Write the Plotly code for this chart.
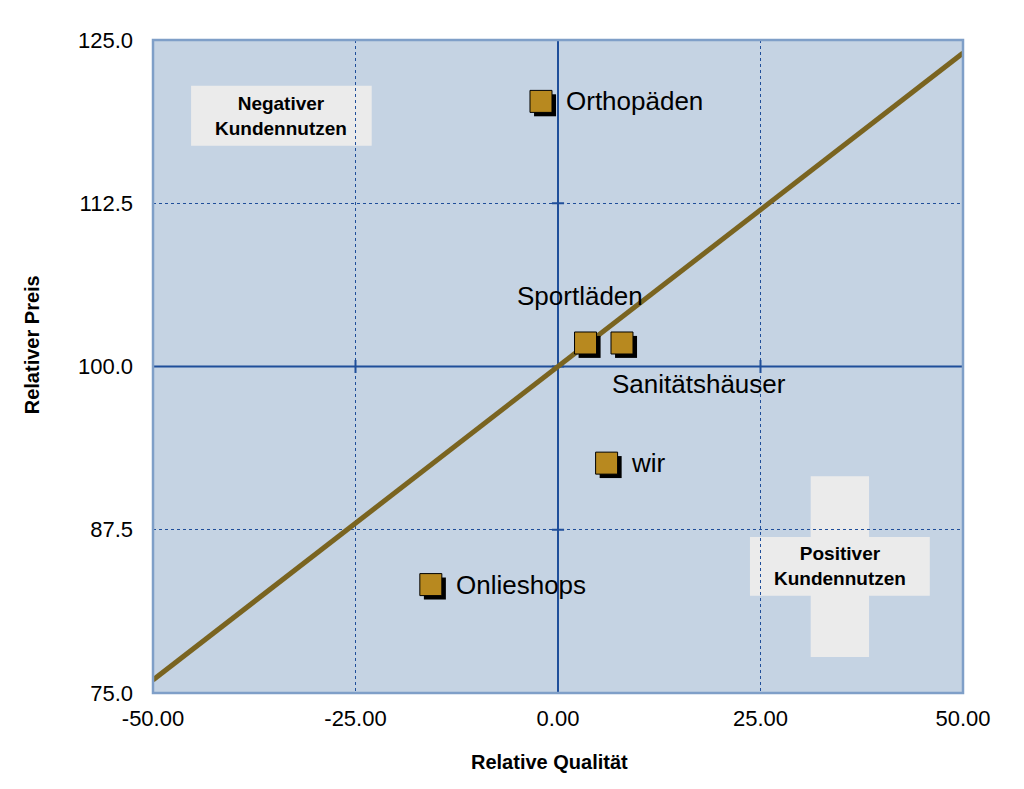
import plotly.graph_objects as go

# data
names = ["Orthopäden", "Sportläden", "Sanitätshäuser", "wir", "Onlieshops"]
quality = [-2.1, 3.4, 7.9, 6.0, -15.7]
price = [120.3, 101.8, 101.8, 92.6, 83.3]

line_x = [-50, 50]
line_y = [76.0, 124.0]

x_ticks = [-50, -25, 0, 25, 50]
y_ticks = [75, 87.5, 100, 112.5, 125]

# label placement relative to marker (px): xshift, yshift, xanchor
label_style = [(23, 0, "left"), (-6, 47, "center"), (-12, -41, "left"),
               (22, 0, "left"), (23, 0, "left")]

BG = "#C5D3E3"
CROSS = "#1F4E9A"
GOLD = "#B8891F"
FONT = "Liberation Sans, Arial, sans-serif"

fig = go.Figure()

# diagonal reference line
fig.add_trace(go.Scatter(
    x=line_x, y=line_y, mode="lines",
    line=dict(color="#7A6420", width=5),
    hoverinfo="skip", showlegend=False,
))

# marker shadows (slightly offset)
fig.add_trace(go.Scatter(
    x=[q + 0.5 for q in quality], y=[p - 0.3 for p in price], mode="markers",
    marker=dict(symbol="square", size=22, color="black"),
    hoverinfo="skip", showlegend=False,
))

fig.add_trace(go.Scatter(
    x=quality, y=price, mode="markers",
    marker=dict(symbol="square", size=22, color=GOLD,
                line=dict(color="black", width=1)),
    showlegend=False,
))

# labels
for n, q, p, (xs, ys, xa) in zip(names, quality, price, label_style):
    fig.add_annotation(
        x=q, y=p, text=n, showarrow=False,
        xshift=xs, yshift=ys, xanchor=xa, yanchor="middle",
        font=dict(family=FONT, size=26, color="black"),
    )

shapes = []
# crosshair
shapes.append(dict(type="line", xref="x", yref="paper", x0=0, x1=0, y0=0, y1=1,
                   line=dict(color=CROSS, width=2), layer="below"))
shapes.append(dict(type="line", xref="paper", yref="y", x0=0, x1=1, y0=100, y1=100,
                   line=dict(color=CROSS, width=2), layer="below"))
for yt in y_ticks:
    shapes.append(dict(type="line", xref="x", yref="y", x0=-0.75, x1=0.75, y0=yt, y1=yt,
                       line=dict(color=CROSS, width=2), layer="below"))
for xt in x_ticks:
    shapes.append(dict(type="line", xref="x", yref="y", x0=xt, x1=xt, y0=99.5, y1=100.5,
                       line=dict(color=CROSS, width=2), layer="below"))

# label boxes
box = "#EBEBEB"
shapes.append(dict(type="rect", xref="paper", yref="paper", x0=0.047, x1=0.270,
                   y0=0.838, y1=0.930, fillcolor=box, line=dict(width=0), layer="below"))
shapes.append(dict(type="rect", xref="paper", yref="paper", x0=0.812, x1=0.884,
                   y0=0.055, y1=0.332, fillcolor=box, line=dict(width=0), layer="below"))
shapes.append(dict(type="rect", xref="paper", yref="paper", x0=0.737, x1=0.959,
                   y0=0.149, y1=0.239, fillcolor=box, line=dict(width=0), layer="below"))
# plot border
shapes.append(dict(type="rect", xref="paper", yref="paper", x0=0, x1=1, y0=0, y1=1,
                   line=dict(color="#7F9FC8", width=2.5)))

fig.add_annotation(x=0.1585, y=0.884, xref="paper", yref="paper", showarrow=False,
                   xanchor="center", yanchor="middle",
                   text="<b>Negativer<br>Kundennutzen</b>",
                   font=dict(family=FONT, size=19, color="black"))
fig.add_annotation(x=0.848, y=0.194, xref="paper", yref="paper", showarrow=False,
                   xanchor="center", yanchor="middle",
                   text="<b>Positiver<br>Kundennutzen</b>",
                   font=dict(family=FONT, size=19, color="black"))

# axis titles
fig.add_annotation(x=-0.149, y=0.533, xref="paper", yref="paper", showarrow=False,
                   xanchor="center", yanchor="middle", textangle=-90,
                   text="<b>Relativer Preis</b>",
                   font=dict(family=FONT, size=20, color="black"))
fig.add_annotation(x=0.49, y=-0.106, xref="paper", yref="paper", showarrow=False,
                   xanchor="center", yanchor="middle",
                   text="<b>Relative Qualität</b>",
                   font=dict(family=FONT, size=20, color="black"))

fig.update_layout(
    width=1024, height=789,
    paper_bgcolor="white", plot_bgcolor=BG,
    margin=dict(l=145, r=69, t=32, b=104),
    font=dict(family=FONT, color="black"),
    shapes=shapes,
    xaxis=dict(
        range=[-50, 50], tickvals=x_ticks, ticktext=[f"{v:.2f}" for v in x_ticks],
        tickfont=dict(size=22), ticklabelstandoff=10,
        showgrid=True, gridcolor=CROSS, griddash="dot", gridwidth=1,
        zeroline=False, showline=False, ticks="",
    ),
    yaxis=dict(
        range=[75, 125], tickvals=y_ticks, ticktext=[f"{v:.1f}" for v in y_ticks],
        tickfont=dict(size=22), ticklabelstandoff=19,
        showgrid=True, gridcolor=CROSS, griddash="dot", gridwidth=1,
        zeroline=False, showline=False, ticks="",
    ),
)

fig.write_html("out.html")
